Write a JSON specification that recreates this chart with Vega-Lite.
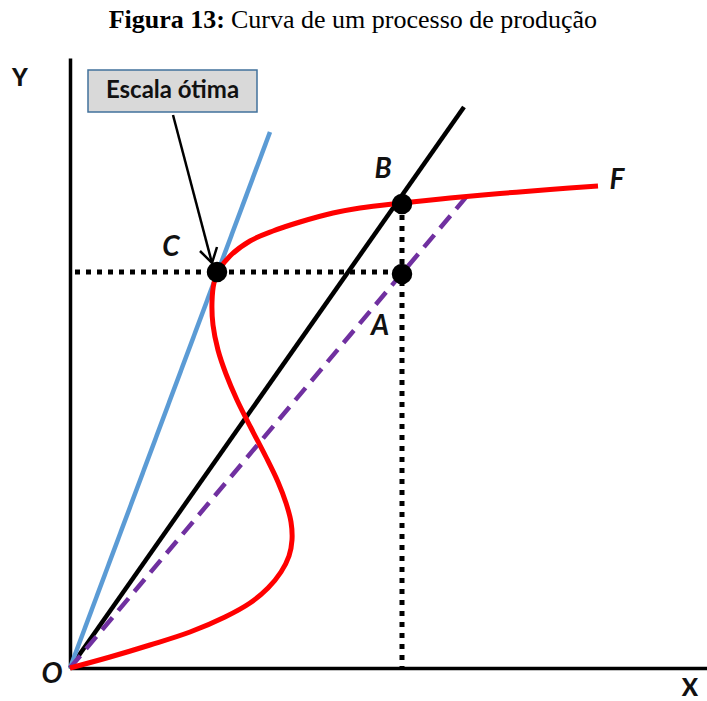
{
  "$schema": "https://vega.github.io/schema/vega-lite/v6.json",
  "width": 637,
  "height": 610,
  "autosize": {"type": "none"},
  "padding": {"left": 70, "top": 58, "right": 0, "bottom": 33},
  "background": "white",
  "config": {
    "view": {"stroke": null},
    "axis": {"domain": true, "domainColor": "black", "domainWidth": 3.5, "ticks": false, "labels": false, "grid": false, "title": null}
  },
  "datasets": {
    "red": [
      {"o": 1, "x": 0, "y": 0}, {"o": 2, "x": 40, "y": 11}, {"o": 3, "x": 80, "y": 23}, {"o": 4, "x": 120, "y": 36},
      {"o": 5, "x": 155, "y": 51}, {"o": 6, "x": 180, "y": 65}, {"o": 7, "x": 198, "y": 80}, {"o": 8, "x": 211, "y": 96},
      {"o": 9, "x": 219, "y": 112}, {"o": 10, "x": 222, "y": 128}, {"o": 11, "x": 221, "y": 146}, {"o": 12, "x": 216, "y": 165},
      {"o": 13, "x": 208, "y": 186}, {"o": 14, "x": 196, "y": 211}, {"o": 15, "x": 181, "y": 240}, {"o": 16, "x": 167, "y": 268},
      {"o": 17, "x": 156, "y": 294}, {"o": 18, "x": 148, "y": 318}, {"o": 19, "x": 143, "y": 343}, {"o": 20, "x": 142, "y": 366},
      {"o": 21, "x": 144, "y": 385}, {"o": 22, "x": 149, "y": 398}, {"o": 23, "x": 160, "y": 412}, {"o": 24, "x": 180, "y": 427},
      {"o": 25, "x": 203, "y": 437}, {"o": 26, "x": 230, "y": 446}, {"o": 27, "x": 263, "y": 455}, {"o": 28, "x": 290, "y": 460},
      {"o": 29, "x": 332, "y": 465}, {"o": 30, "x": 380, "y": 470}, {"o": 31, "x": 430, "y": 474.5}, {"o": 32, "x": 480, "y": 478.5},
      {"o": 33, "x": 528, "y": 482}
    ],
    "black": [{"o": 1, "x": 0, "y": 0}, {"o": 2, "x": 394, "y": 561}],
    "blue": [{"o": 1, "x": 0, "y": 0}, {"o": 2, "x": 200, "y": 536}],
    "purple": [{"o": 1, "x": 0, "y": 0}, {"o": 2, "x": 397, "y": 472}],
    "hdot": [{"o": 1, "x": 5, "y": 396}, {"o": 2, "x": 332, "y": 396}],
    "vdot": [{"o": 1, "x": 332, "y": 464}, {"o": 2, "x": 332, "y": 0}],
    "dots": [{"name": "C", "x": 147, "y": 396}, {"name": "B", "x": 332, "y": 464}, {"name": "A", "x": 332, "y": 394}],
    "shaft": [{"o": 1, "x": 103, "y": 553}, {"o": 2, "x": 142, "y": 405}],
    "head": [{"o": 1, "x": 130, "y": 417}, {"o": 2, "x": 142, "y": 405}, {"o": 3, "x": 147, "y": 421}],
    "box": [{"x": 18, "x2": 187, "y": 556, "y2": 598, "t": "Escala ótima", "tx": 102.5, "ty": 577}],
    "upright": [{"t": "Y", "x": -50, "y": 589}, {"t": "X", "x": 620, "y": -21}],
    "italic": [{"t": "O", "x": -18, "y": -7}, {"t": "B", "x": 313, "y": 498}, {"t": "C", "x": 101, "y": 420}, {"t": "A", "x": 310, "y": 341}, {"t": "F", "x": 547, "y": 487}],
    "title": [{"bold": "Figura 13:", "rest": "Curva de um processo de produção", "xb": 155, "xr": 161, "y": 648}]
  },
  "encoding": {
    "x": {"field": "x", "type": "quantitative", "scale": {"domain": [0, 637], "nice": false, "zero": false}},
    "y": {"field": "y", "type": "quantitative", "scale": {"domain": [0, 610], "nice": false, "zero": false}}
  },
  "layer": [
    {"data": {"name": "black"}, "mark": {"type": "line", "color": "black", "strokeWidth": 4.5}, "encoding": {"order": {"field": "o"}}},
    {"data": {"name": "blue"}, "mark": {"type": "line", "color": "#5b9bd5", "strokeWidth": 4.5}, "encoding": {"order": {"field": "o"}}},
    {"data": {"name": "purple"}, "mark": {"type": "line", "color": "#7030a0", "strokeWidth": 4.5, "strokeDash": [16, 9]}, "encoding": {"order": {"field": "o"}}},
    {"data": {"name": "red"}, "mark": {"type": "line", "color": "#ff0000", "strokeWidth": 5, "interpolate": "catmull-rom"}, "encoding": {"order": {"field": "o"}}},
    {"data": {"name": "hdot"}, "mark": {"type": "line", "color": "black", "strokeWidth": 5, "strokeDash": [5, 6], "strokeCap": "butt"}, "encoding": {"order": {"field": "o"}}},
    {"data": {"name": "vdot"}, "mark": {"type": "line", "color": "black", "strokeWidth": 5, "strokeDash": [5, 6], "strokeCap": "butt"}, "encoding": {"order": {"field": "o"}}},
    {"data": {"name": "shaft"}, "mark": {"type": "line", "color": "black", "strokeWidth": 2.5}, "encoding": {"order": {"field": "o"}}},
    {"data": {"name": "head"}, "mark": {"type": "line", "color": "black", "strokeWidth": 2.5}, "encoding": {"order": {"field": "o"}}},
    {"data": {"name": "dots"}, "mark": {"type": "point", "filled": true, "color": "black", "size": 420, "opacity": 1}},
    {"data": {"name": "box"}, "mark": {"type": "rect", "fill": "#d9d9d9", "stroke": "#41719c", "strokeWidth": 1.5},
      "encoding": {"x": {"field": "x", "type": "quantitative"}, "x2": {"field": "x2"}, "y": {"field": "y", "type": "quantitative"}, "y2": {"field": "y2"}}},
    {"data": {"name": "box"}, "mark": {"type": "text", "font": "Lato", "fontWeight": "bold", "fontSize": 24, "color": "#111", "align": "center", "baseline": "middle"},
      "encoding": {"x": {"field": "tx", "type": "quantitative"}, "y": {"field": "ty", "type": "quantitative"}, "text": {"field": "t"}}},
    {"data": {"name": "upright"}, "mark": {"type": "text", "font": "Lato", "fontWeight": 900, "fontSize": 24, "color": "#111", "align": "center", "baseline": "middle"},
      "encoding": {"text": {"field": "t"}}},
    {"data": {"name": "italic"}, "mark": {"type": "text", "font": "Lato", "fontWeight": "bold", "fontStyle": "italic", "fontSize": 28, "color": "#111", "align": "center", "baseline": "middle"},
      "encoding": {"text": {"field": "t"}}},
    {"data": {"name": "title"}, "mark": {"type": "text", "font": "Liberation Serif", "fontWeight": "bold", "fontSize": 26, "color": "black", "align": "right", "baseline": "middle"},
      "encoding": {"x": {"field": "xb", "type": "quantitative"}, "y": {"field": "y", "type": "quantitative"}, "text": {"field": "bold"}}},
    {"data": {"name": "title"}, "mark": {"type": "text", "font": "Liberation Serif", "fontSize": 26, "color": "black", "align": "left", "baseline": "middle"},
      "encoding": {"x": {"field": "xr", "type": "quantitative"}, "y": {"field": "y", "type": "quantitative"}, "text": {"field": "rest"}}}
  ]
}
